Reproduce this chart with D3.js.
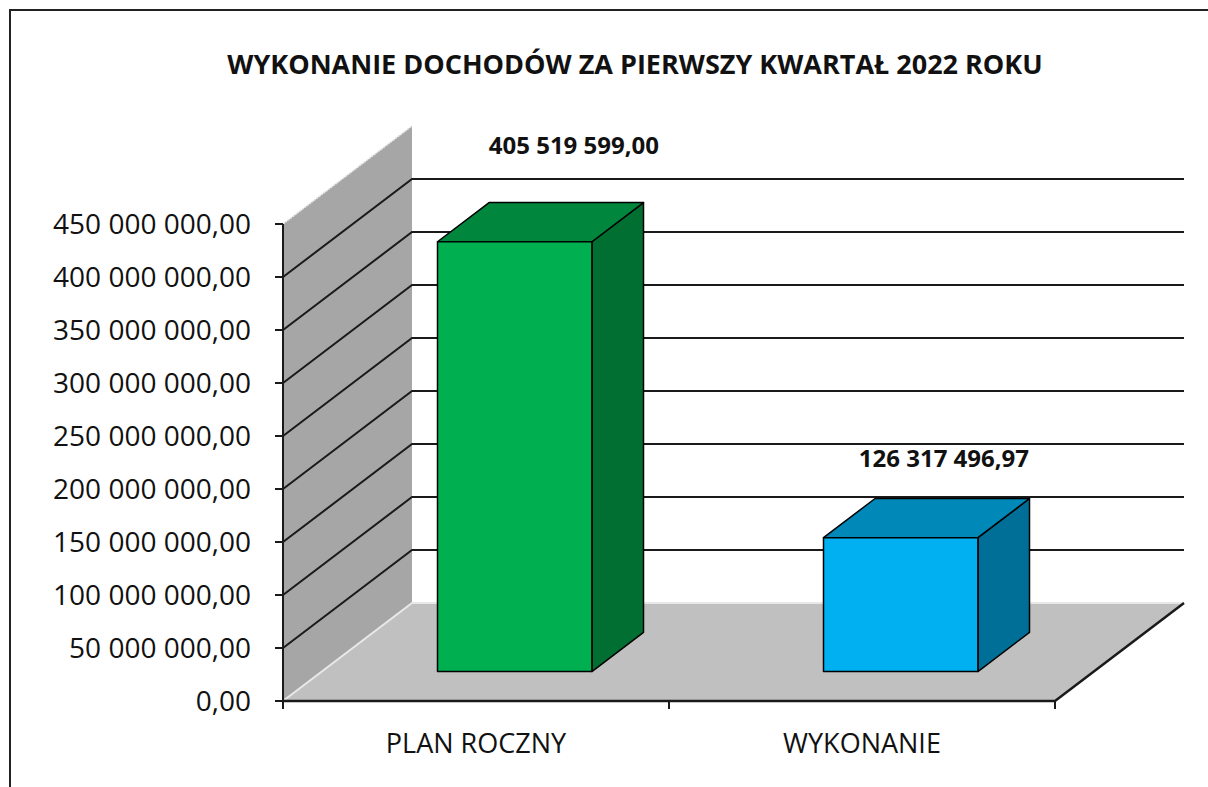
<!DOCTYPE html>
<html>
<head>
<meta charset="utf-8">
<script src="https://cdn.jsdelivr.net/npm/d3@7"></script>
<style>
  body { margin: 0; background: #fff; }
  svg { display: block; }
</style>
</head>
<body>
<script>
// data
const title = "WYKONANIE DOCHODÓW ZA PIERWSZY KWARTAŁ 2022 ROKU";
const categories = ["PLAN ROCZNY", "WYKONANIE"];
const values = [405519599.00, 126317496.97];
const yTicks = [0, 50e6, 100e6, 150e6, 200e6, 250e6, 300e6, 350e6, 400e6, 450e6];
const frontColors = ["#00b050", "#00b0f0"];
const topColors = ["#00873d", "#0088b8"];
const sideColors = ["#006f31", "#006f97"];

const width = 1208, height = 787;
const pl = d3.formatLocale({decimal: ",", thousands: "\u00a0", grouping: [3], currency: ["", ""]});
const fmt = pl.format(",.2f");

const svg = d3.select("body").append("svg")
    .attr("width", width)
    .attr("height", height);

// chart border (runs off the right and bottom of the shot)
svg.append("rect")
    .attr("x", 10).attr("y", 10)
    .attr("width", width + 20).attr("height", height + 20)
    .attr("fill", "#fff")
    .attr("stroke", "#222").attr("stroke-width", 2);

svg.append("text")
    .attr("x", 635).attr("y", 74)
    .attr("text-anchor", "middle")
    .attr("font-family", "Open Sans")
    .attr("font-weight", "bold")
    .attr("font-size", 27)
    .attr("fill", "#111")
    .text(title);

// 3d frame
const x0 = 283, x1 = 1055;
const depth = {dx: 129, dy: -98};
const y = d3.scaleLinear().domain([0, 450e6]).range([701, 224]);
const x = d3.scaleBand().domain(categories).range([x0, x1])
    .paddingInner(0.6).paddingOuter(0.3);
const band = d3.scaleBand().domain(categories).range([x0, x1]);
const dFront = 0.3, dBack = 0.7;

const g = svg.append("g");
const line = d3.line();

// side wall
g.append("path")
    .attr("d", line([[x0, y(450e6)], [x0 + depth.dx, y(450e6) + depth.dy],
                     [x0 + depth.dx, y(0) + depth.dy], [x0, y(0)]]) + "Z")
    .attr("fill", "#a6a6a6");
// floor
g.append("path")
    .attr("d", line([[x0, y(0)], [x0 + depth.dx, y(0) + depth.dy],
                     [x1 + depth.dx, y(0) + depth.dy], [x1, y(0)]]) + "Z")
    .attr("fill", "#c0c0c0");
// light edges
g.append("path")
    .attr("d", line([[x0, y(0)], [x0 + depth.dx, y(0) + depth.dy], [x1 + depth.dx, y(0) + depth.dy]]))
    .attr("fill", "none").attr("stroke", "#e8e8e8").attr("stroke-width", 2);
g.append("path")
    .attr("d", line([[x0, y(450e6)], [x0 + depth.dx, y(450e6) + depth.dy]]))
    .attr("fill", "none").attr("stroke", "#e4e4e4").attr("stroke-width", 1.5)
    .attr("stroke-dasharray", "2,1");

// gridlines: side wall diagonal + back wall horizontal
const grid = yTicks.filter(v => v > 0 && v < 450e6);
g.append("g").selectAll("path")
    .data(grid)
    .join("path")
    .attr("d", v => line([[x0, y(v)], [x0 + depth.dx, y(v) + depth.dy], [x1 + depth.dx, y(v) + depth.dy]]))
    .attr("fill", "none")
    .attr("stroke", "#1a1a1a")
    .attr("stroke-width", 2);

// floor front & right edges
g.append("path")
    .attr("d", line([[x0, y(0)], [x1, y(0)], [x1 + depth.dx, y(0) + depth.dy]]))
    .attr("fill", "none").attr("stroke", "#1a1a1a").attr("stroke-width", 2.5);

// value axis
g.append("line")
    .attr("x1", x0).attr("x2", x0).attr("y1", y(450e6)).attr("y2", y(0))
    .attr("stroke", "#1a1a1a").attr("stroke-width", 2);
const yAx = g.append("g").selectAll("g").data(yTicks).join("g");
yAx.append("line")
    .attr("x1", x0 - 8).attr("x2", x0)
    .attr("y1", d => y(d)).attr("y2", d => y(d))
    .attr("stroke", "#1a1a1a").attr("stroke-width", 2);
yAx.append("text")
    .attr("x", 251).attr("y", d => y(d)).attr("dy", "0.35em")
    .attr("text-anchor", "end")
    .attr("font-family", "Open Sans").attr("font-size", 28)
    .attr("fill", "#111")
    .text(d => fmt(d));

// category axis
const xTicks = [x0].concat(categories.map(c => band(c) + band.bandwidth()));
g.append("g").selectAll("line").data(xTicks).join("line")
    .attr("x1", d => d).attr("x2", d => d)
    .attr("y1", y(0)).attr("y2", y(0) + 8)
    .attr("stroke", "#1a1a1a").attr("stroke-width", 2);
g.append("g").selectAll("text").data(categories).join("text")
    .attr("x", d => band(d) + band.bandwidth() / 2)
    .attr("y", 753)
    .attr("text-anchor", "middle")
    .attr("font-family", "Open Sans").attr("font-size", 27)
    .attr("fill", "#111")
    .text(d => d);

// bars
const bars = categories.map((c, i) => {
    const fx = x(c) + depth.dx * dFront, fy = depth.dy * dFront;
    const bw = x.bandwidth();
    const ddx = depth.dx * (dBack - dFront), ddy = depth.dy * (dBack - dFront);
    const yb = y(0) + fy, yt = y(values[i]) + fy;
    return {i, fx, bw, ddx, ddy, yb, yt};
});
const bg = g.append("g").selectAll("g").data(bars).join("g")
    .attr("stroke", "#000").attr("stroke-width", 1.5).attr("stroke-linejoin", "round");
bg.append("path")
    .attr("d", b => line([[b.fx + b.bw, b.yb], [b.fx + b.bw + b.ddx, b.yb + b.ddy],
                          [b.fx + b.bw + b.ddx, b.yt + b.ddy], [b.fx + b.bw, b.yt]]) + "Z")
    .attr("fill", b => sideColors[b.i]);
bg.append("path")
    .attr("d", b => line([[b.fx, b.yt], [b.fx + b.ddx, b.yt + b.ddy],
                          [b.fx + b.bw + b.ddx, b.yt + b.ddy], [b.fx + b.bw, b.yt]]) + "Z")
    .attr("fill", b => topColors[b.i]);
bg.append("rect")
    .attr("x", b => b.fx).attr("y", b => b.yt)
    .attr("width", b => b.bw).attr("height", b => b.yb - b.yt)
    .attr("fill", b => frontColors[b.i]);

// value labels, lifted a bit more over taller bars
g.append("g").selectAll("text").data(bars).join("text")
    .attr("x", b => b.fx + b.bw / 2 + 36 + 0.054 * (b.yb - b.yt))
    .attr("y", b => b.yt - 63 - 0.057 * (b.yb - b.yt))
    .attr("text-anchor", "middle")
    .attr("font-family", "Open Sans").attr("font-weight", "bold").attr("font-size", 24)
    .attr("fill", "#111")
    .text(b => fmt(values[b.i]));
</script>
</body>
</html>
